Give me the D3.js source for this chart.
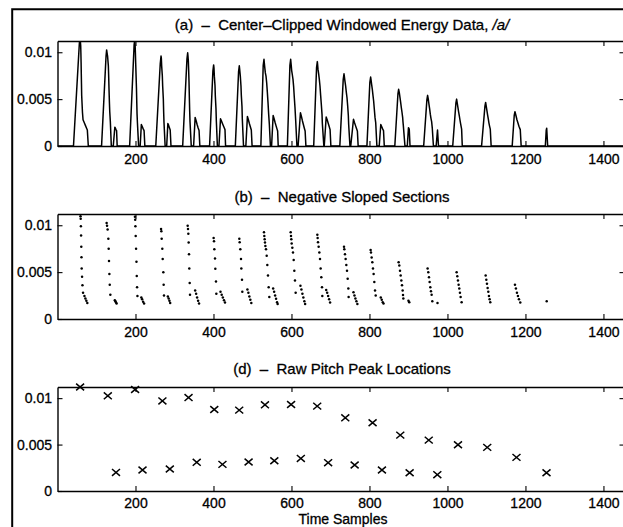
<!DOCTYPE html>
<html>
<head>
<meta charset="utf-8">
<script src="https://cdn.jsdelivr.net/npm/d3@7"></script>
<style>
  body { margin: 0; background: #fff; }
  svg { display: block; }
  text { font-family: "Liberation Sans", Arial, sans-serif; fill: #000; stroke: #000; stroke-width: 0.3px; }
</style>
</head>
<body>
<svg id="chart" width="623" height="527"></svg>
<script>
// tick values
var xTicks = [200, 400, 600, 800, 1000, 1200, 1400];
var yTicks = [0, 0.005, 0.01];
var yTickLabels = ["0", "0.005", "0.01"];
var titles = [
  "(a)  \u2013  Center\u2013Clipped Windowed Energy Data, ",
  "(b)  \u2013  Negative Sloped Sections",
  "(d)  \u2013  Raw Pitch Peak Locations"
];

// energy pulses (energy in units of 1e-3)
// rise start sample, knee of the rising edge, negative sloped section [sample, energy], end sample
var pulseStart = [41, 113, 185, 252, 321, 390, 456, 521.5, 589.5, 657, 724, 793.5, 865, 939, 1013.5, 1087.5, 1166, 1251];
var pulseKnee = [[56,10.9],[124.5,9.6],[196.5,10.8],[263.5,8.8],[332,9.3],[398.5,8.0],[464.3,7.9],[527.5,8.6],[596,8.6],
                 [664.3,8.35],[732.7,7.1],[801,6.8],[873,5.55],[947.3,4.95],[1021.7,4.6],[1096.1,4.25],[1171.3,3.3],[1253.3,1.7]];
var pulseEnd = [79, 138, 208, 276, 343, 410, 477, 546, 614, 683, 750, 819, 891, 964, 1038, 1112, 1189, 1257];
var mainSlopes = [
  [[58,11.8],[59,10.95],[59.5,10.7],[60,9.9],[60.5,8.9],[61,7.7],[61.5,6.6],[62,5.4],[63,4.5],[64,3.6],[65.5,2.8],[69,2.45],[71.5,2.2],[74,1.95],[76.5,1.7]],
  [[126,10.25],[127,9.95],[128.5,9.55],[130.4,8.55],[131.2,7.5],[132,6.2],[133,4.8],[134,3.65],[135.5,2.6]],
  [[198,11.3],[198.6,10.9],[199.2,10.6],[199.8,9.9],[200.5,8.85],[201.5,7.5],[202.5,6.1],[203.3,4.6],[204,3.4],[205,2.45]],
  [[265.5,9.6],[266.3,9.35],[267.1,8.55],[268.8,7.5],[269.7,6.4],[271.4,5.0],[272.2,3.65],[273.1,2.5]],
  [[333.8,9.95],[334.6,9.6],[335.5,9.1],[336.3,8.15],[337.2,6.9],[338,5.4],[338.9,3.85],[339.8,2.6]],
  [[400.4,8.65],[401.3,8.3],[402.2,7.45],[403.9,6.45],[404.7,5.35],[406.4,4.0],[407.3,2.7]],
  [[466.2,8.55],[467.1,8.2],[468.8,7.45],[470.5,6.4],[471.4,5.4],[473.1,4.2],[473.9,2.9]],
  [[529.5,9.25],[530.4,8.85],[531.2,8.5],[532.1,8.15],[533,7.8],[534.7,7.45],[536.4,6.75],[538.1,5.75],[539.8,4.65],[541.5,3.4],[543.2,2.35]],
  [[597.9,9.25],[598.8,8.85],[599.6,8.5],[600.5,8.05],[602.2,7.6],[603.9,7.1],[605.6,6.3],[607.3,5.15],[609,4.1],[610.7,2.8]],
  [[666.3,9.0],[667.1,8.65],[668,8.2],[669.7,7.7],[671.4,7.1],[673.1,6.4],[674.8,5.4],[676.5,4.45],[678.3,3.4],[679.1,2.45]],
  [[734.7,7.7],[735.5,7.45],[737.2,6.9],[738.9,6.4],[740.6,5.75],[742.4,5.15],[744.1,4.3],[745.8,3.25],[746.6,2.35]],
  [[803,7.35],[803.9,7.1],[805.6,6.55],[807.3,6.05],[809,5.4],[810.7,4.8],[812.4,3.95],[814.2,3.05],[816,2.5]],
  [[874.8,6.05],[876.5,5.7],[878.3,5.15],[880,4.65],[881.7,4.1],[883.4,3.6],[885.1,3.05],[886,2.55],[886.8,2.2]],
  [[949.1,5.4],[950.8,5.0],[952.6,4.45],[954.3,3.95],[956,3.4],[957.7,2.95],[959.4,2.6],[961.1,1.9]],
  [[1023.5,5.0],[1025.2,4.55],[1026.9,4.1],[1028.6,3.65],[1030.3,3.25],[1032,2.8],[1033.8,2.35],[1036.3,1.8]],
  [[1097.9,4.65],[1099.6,4.2],[1101.3,3.75],[1103,3.3],[1104.7,2.9],[1106.4,2.45],[1108.1,2.1],[1109.8,1.8]],
  [[1173.1,3.65],[1175.6,3.25],[1178.2,2.8],[1180.8,2.45],[1183.3,2.1],[1186.7,1.75]],
  [[1254.5,1.9]]
];

// small second bumps after the main pulses
var echoStart = [143, 212, 280, 349, 414, 483, 549, 617, 684, 752, 825, 897, 971];
var echoEnd = [153, 224, 291, 365, 431, 499, 566, 637, 701, 771, 838, 904, 977];
var echoSlopes = [
  [[147,2.0],[148.5,1.9],[150,1.75],[151.5,1.65]],
  [[215,2.3],[217,2.1],[219.5,1.85],[222,1.65]],
  [[283,2.4],[285,2.2],[287,1.95],[289,1.7]],
  [[353,3.05],[355.5,2.7],[358,2.3],[360.5,1.95],[363,1.65]],
  [[418,2.9],[421,2.6],[424,2.3],[427,2.0],[429.5,1.75]],
  [[487,3.15],[489.5,2.8],[492,2.4],[494.5,2.05],[497,1.7]],
  [[553,3.25],[555.5,2.9],[558,2.5],[560.5,2.15],[563,1.8],[564.5,1.6]],
  [[623,3.55],[625.5,3.15],[628,2.7],[630.5,2.3],[633,1.9],[635,1.6]],
  [[689,3.1],[691.5,2.8],[694,2.45],[696.5,2.1],[699,1.75]],
  [[759,2.85],[761.5,2.5],[764,2.2],[766.5,1.9],[769,1.6]],
  [[829,2.3],[831.5,2.05],[834,1.8],[836,1.65]],
  [[900,1.95],[902,1.8]],
  [[974.5,1.7]]
];

// raw pitch peak locations (energy in units of 1e-3)
var peakX = [58, 129, 150, 199, 218, 269, 288, 336, 357, 402, 423, 466, 490, 532, 556, 599, 624, 666, 694, 738, 762, 808, 832, 879, 903, 952, 974, 1027, 1102, 1177, 1254];
var peakY = [11.2, 10.25, 2.0, 10.93, 2.26, 9.7, 2.37, 10.06, 3.09, 8.78, 2.87, 8.71, 3.12, 9.28, 3.26, 9.32, 3.51, 9.14, 3.05, 7.88, 2.80, 7.35, 2.26, 6.02, 1.97, 5.48, 1.76, 4.98, 4.70, 3.62, 1.97];

var xMax = 1454, yMax = 0.0112;
var left = 57.5, right = 624.5;
var panels = [
  {top: 41, bottom: 146, titleY: 29.5, pad: 8.5},
  {top: 214, bottom: 319, titleY: 202, pad: 8.5},
  {top: 387, bottom: 491, titleY: 374, pad: 7}
];

var svg = d3.select("#chart");

// outer frame
svg.append("path")
    .attr("d", "M12.2,527V9.3H623")
    .attr("fill", "none")
    .attr("stroke", "#000")
    .attr("stroke-width", 2);

var x = d3.scaleLinear().domain([0, xMax]).range([left, right]);

var makeY = function(p) {
  return d3.scaleLinear().domain([0, yMax]).range([p.bottom, p.top]);
};

var drawAxes = function(p, y, i) {
  var g = svg.append("g");

  g.append("g")
      .attr("transform", "translate(0," + p.bottom + ")")
      .call(d3.axisBottom(x).tickValues(xTicks).tickSize(-5).tickSizeOuter(0).tickPadding(p.pad)
        .tickFormat(d3.format("d")));
  g.append("g")
      .attr("transform", "translate(0," + p.top + ")")
      .call(d3.axisTop(x).tickValues(xTicks).tickSize(-5).tickSizeOuter(0).tickFormat(""));
  g.append("g")
      .attr("transform", "translate(" + left + ",0)")
      .call(d3.axisLeft(y).tickValues(yTicks).tickSize(-5).tickSizeOuter(0).tickPadding(5.5)
        .tickFormat(function(d, j) { return yTickLabels[j]; }));
  g.append("g")
      .attr("transform", "translate(" + right + ",0)")
      .call(d3.axisRight(y).tickValues(yTicks).tickSize(-5).tickSizeOuter(0).tickFormat(""));

  g.selectAll(".domain").attr("stroke", "#000").attr("stroke-width", 1.4);
  g.selectAll(".tick line").attr("stroke", "#000").attr("stroke-width", 1.1);
  g.selectAll(".tick text")
      .attr("fill", "#000")
      .style("font-size", "14px")
      .style("font-family", "'Liberation Sans', Arial, sans-serif");

  var t = svg.append("text")
      .attr("x", (left + right) / 2 + 1)
      .attr("y", p.titleY)
      .attr("text-anchor", "middle")
      .style("font-size", "15px")
      .style("white-space", "pre")
      .text(titles[i]);
  if (i == 0) {
    t.append("tspan").style("font-style", "italic").text("/a/");
  }
};

// clip paths for each plot area
var defs = svg.append("defs");
panels.forEach(function(p, i) {
  defs.append("clipPath").attr("id", "clip" + i)
    .append("rect")
      .attr("x", left).attr("y", p.top)
      .attr("width", right - left).attr("height", p.bottom - p.top);
});

// (a) energy curve
var yA = makeY(panels[0]);
var energyPts = [];
pulseStart.forEach(function(s, i) {
  energyPts.push([s, 0]);
  energyPts.push(pulseKnee[i]);
  mainSlopes[i].forEach(function(d) { energyPts.push(d); });
  energyPts.push([pulseEnd[i], 0]);
});
echoStart.forEach(function(s, i) {
  energyPts.push([s, 0]);
  echoSlopes[i].forEach(function(d) { energyPts.push(d); });
  energyPts.push([echoEnd[i], 0]);
});
energyPts.sort(function(a, b) { return a[0] - b[0]; });
energyPts.unshift([0, 0]);
energyPts.push([xMax, 0]);

var line = d3.line()
    .x(function(d) { return x(d[0]); })
    .y(function(d) { return yA(d[1] / 1000); });

svg.append("path")
    .datum(energyPts)
    .attr("clip-path", "url(#clip0)")
    .attr("fill", "none")
    .attr("stroke", "#000")
    .attr("stroke-width", 1.5)
    .attr("stroke-linejoin", "round")
    .attr("d", line);

drawAxes(panels[0], yA, 0);

// (b) negative sloped sections
var yB = makeY(panels[1]);
var slopeDots = [];
mainSlopes.concat(echoSlopes).forEach(function(sec) {
  sec.forEach(function(d) { if (d[1] / 1000 <= yMax) slopeDots.push(d); });
});

svg.append("g")
    .attr("clip-path", "url(#clip1)")
  .selectAll("circle")
    .data(slopeDots)
  .enter().append("circle")
    .attr("cx", function(d) { return x(d[0]); })
    .attr("cy", function(d) { return yB(d[1] / 1000); })
    .attr("r", 1.25)
    .attr("fill", "#000");

drawAxes(panels[1], yB, 1);

// (d) raw pitch peak locations, x markers
var yD = makeY(panels[2]);

svg.append("g")
  .selectAll("path")
    .data(peakX)
  .enter().append("path")
    .attr("transform", function(d, i) { return "translate(" + x(d) + "," + yD(peakY[i] / 1000) + ")"; })
    .attr("d", "M-4,-3.4L4,3.4M-4,3.4L4,-3.4")
    .attr("fill", "none")
    .attr("stroke", "#000")
    .attr("stroke-width", 1.5);

drawAxes(panels[2], yD, 2);

svg.append("text")
    .attr("x", 343)
    .attr("y", 523.9)
    .attr("text-anchor", "middle")
    .style("font-size", "14px")
    .text("Time Samples");
</script>
</body>
</html>
